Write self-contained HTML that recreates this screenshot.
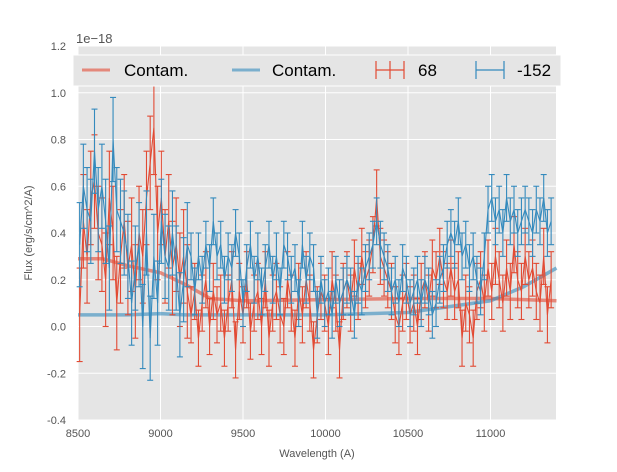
<!DOCTYPE html>
<html><head><meta charset="utf-8"><style>
body{margin:0;background:#fff;}
svg text{font-family:"Liberation Sans",sans-serif;}
</style></head><body>
<svg id="chart" width="617" height="467" xmlns="http://www.w3.org/2000/svg">
<rect x="78" y="46" width="478" height="374" fill="#E5E5E5"/>
<g id="grid"></g><g id="series"></g><g id="axes"></g>
<text x="76" y="43" font-size="13" fill="#555">1e−18</text>
<text x="317" y="457" font-size="11" fill="#555" text-anchor="middle">Wavelength (A)</text>
<text transform="translate(32,233) rotate(-90)" font-size="11" fill="#555" text-anchor="middle">Flux (erg/s/cm^2/A)</text>
<g>
<rect x="73" y="55" width="488" height="31" fill="#E5E5E5" stroke="#fff" stroke-width="1"/>
<line x1="82" y1="70" x2="110" y2="70" stroke="#E24A33" stroke-opacity="0.6" stroke-width="3"/>
<text x="124" y="76" font-size="17">Contam.</text>
<line x1="232" y1="70" x2="260" y2="70" stroke="#348ABD" stroke-opacity="0.6" stroke-width="3"/>
<text x="272" y="76" font-size="17">Contam.</text>
<g stroke="#E24A33" stroke-width="1.2"><line x1="376" y1="70" x2="404" y2="70"/><line x1="390" y1="61" x2="390" y2="79"/><line x1="376" y1="61" x2="376" y2="79"/><line x1="404" y1="61" x2="404" y2="79"/></g>
<text x="418" y="76" font-size="17">68</text>
<g stroke="#348ABD" stroke-width="1.2"><line x1="476" y1="70" x2="504" y2="70"/><line x1="476" y1="61" x2="476" y2="79"/><line x1="504" y1="61" x2="504" y2="79"/></g>
<text x="517" y="76" font-size="17">-152</text>
</g>
</svg>
<script>
const xTicks=[8500,9000,9500,10000,10500,11000];
const yTicks=[-0.4,-0.2,0.0,0.2,0.4,0.6,0.8,1.0,1.2];
const wave0=8510, waveStep=22.5;
const fluxRed=[0.05,0.45,0.3,0.55,0.62,0.4,0.35,0.2,0.55,0.4,
0.1,0.3,0.45,0.25,0.35,0.15,0.4,0.3,0.55,0.7,
0.85,0.4,0.55,0.3,0.45,0.25,0.35,0.2,0.3,0.15,
0.05,0.15,-0.05,0.1,0.2,0.0,0.15,0.05,0.1,-0.05,
0.1,0.2,-0.1,0.15,0.05,0.2,-0.02,0.1,0.15,0.0,
0.2,-0.05,0.1,0.15,0.05,0.0,0.2,0.1,-0.05,0.15,
0.05,0.2,0.1,-0.1,0.05,0.15,0.1,0.0,0.2,0.1,
-0.1,0.15,0.2,0.1,0.25,0.15,0.3,0.2,0.25,0.35,
0.55,0.3,0.25,0.2,0.15,0.05,0.0,0.1,0.15,0.05,
0.1,0.0,0.15,0.2,0.1,0.25,0.2,0.3,0.2,0.15,
0.25,0.15,0.2,-0.05,0.1,0.05,-0.05,0.15,0.2,0.1,
0.25,0.15,0.3,0.2,0.1,0.25,0.15,0.35,0.2,0.15,
0.3,0.2,0.25,0.15,0.1,0.3,0.05,0.2];
const fluxBlue=[0.35,0.6,0.5,0.45,0.75,0.5,0.6,0.45,0.25,0.8,
0.5,0.45,0.4,0.3,0.1,0.25,0.35,0.0,0.4,-0.05,
0.3,0.1,0.45,0.3,0.25,0.4,0.25,0.05,0.2,0.35,
0.3,0.15,0.3,0.2,0.35,0.25,0.45,0.3,0.35,0.2,
0.3,0.25,0.4,0.3,0.1,0.25,0.35,0.2,0.3,0.15,
0.25,0.35,0.2,0.3,0.15,0.35,0.3,0.2,0.25,0.1,
0.35,0.2,0.3,0.25,0.05,0.2,0.1,0.15,0.05,0.2,
0.1,0.15,0.2,0.15,0.05,0.2,0.15,0.25,0.3,0.35,
0.45,0.35,0.3,0.25,0.15,0.2,0.1,0.25,0.2,0.1,
0.15,0.2,0.1,0.2,0.15,0.05,0.1,0.2,0.25,0.35,
0.4,0.35,0.45,0.3,0.35,0.25,0.3,0.2,0.15,0.3,
0.5,0.55,0.45,0.5,0.4,0.55,0.45,0.5,0.4,0.45,
0.5,0.45,0.4,0.5,0.45,0.55,0.4,0.45];
const errRedEarly=0.2, errRedLate=0.12, errBlueEarly=0.18, errBlueLate=0.1, errSplitIndex=30;
const contamWave=[8500,8650,8800,9000,9150,9300,9500,10000,10500,11000,11200,11400];
const contamRed=[0.29,0.29,0.26,0.23,0.18,0.12,0.11,0.115,0.12,0.12,0.115,0.11];
const contamBlue=[0.05,0.05,0.05,0.055,0.05,0.05,0.05,0.05,0.06,0.11,0.17,0.25];

const X0=78,X1=556,Y0=420,Y1=46,XMIN=8500,XMAX=11397,YMIN=-0.4,YMAX=1.2;
const sx=v=>X0+(v-XMIN)/(XMAX-XMIN)*(X1-X0);
const sy=v=>Y0-(v-YMIN)/(YMAX-YMIN)*(Y0-Y1);
const NS="http://www.w3.org/2000/svg";
function mk(tag,attrs,parent){const e=document.createElementNS(NS,tag);for(const k in attrs)e.setAttribute(k,attrs[k]);parent.appendChild(e);return e;}
const grid=document.getElementById('grid'),axes=document.getElementById('axes'),ser=document.getElementById('series');
xTicks.forEach(t=>{
 const l=mk('line',{x1:sx(t),x2:sx(t),y1:Y1,y2:Y0,stroke:'#fff','stroke-width':1},grid);
 
 
 const tx=mk('text',{x:sx(t),y:Y0+17,'font-size':11,fill:'#555','text-anchor':'middle'},axes);
 tx.textContent=t;
 
 
});
yTicks.forEach(t=>{
 const l=mk('line',{x1:X0,x2:X1,y1:sy(t),y2:sy(t),stroke:'#fff','stroke-width':1},grid);
 
 
 const tx=mk('text',{x:X0-12,y:sy(t)+4,'font-size':11,fill:'#555','text-anchor':'end'},axes);
 tx.textContent=t.toFixed(1);
 
 
});
function contam(w,v,color,name){
 const p=mk('polyline',{points:w.map((x,i)=>sx(x)+','+sy(v[i])).join(' '),fill:'none',stroke:color,'stroke-opacity':0.6,'stroke-width':3.5},ser);
 
 
}
function errSeries(f,eE,eL,color,name){
 const g=mk('g',{stroke:color,'stroke-width':1.1,fill:'none'},ser);
 
 
 const pts=[];
 f.forEach((v,i)=>{
  const w=wave0+i*waveStep,x=sx(w),e=i<errSplitIndex?eE:eL;
  pts.push(x+','+sy(v));
  mk('line',{x1:x,x2:x,y1:sy(v-e),y2:sy(v+e)},g);
  mk('line',{x1:x-3,x2:x+3,y1:sy(v-e),y2:sy(v-e)},g);
  mk('line',{x1:x-3,x2:x+3,y1:sy(v+e),y2:sy(v+e)},g);
 });
 mk('polyline',{points:pts.join(' ')},g);
}
contam(contamWave,contamRed,'#E24A33','contam-line-red');
contam(contamWave,contamBlue,'#348ABD','contam-line-blue');
errSeries(fluxRed,errRedEarly,errRedLate,'#E24A33','series-68');
errSeries(fluxBlue,errBlueEarly,errBlueLate,'#348ABD','series-152');
</script>
</body></html>
